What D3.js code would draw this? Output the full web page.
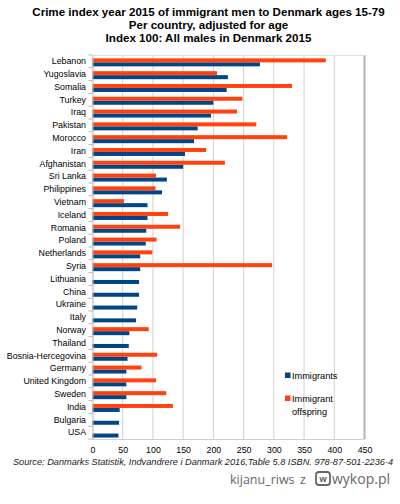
<!DOCTYPE html>
<html><head><meta charset="utf-8">
<script src="https://cdn.jsdelivr.net/npm/d3@7"></script>
<style>body{margin:0;background:#fff}svg{display:block}</style>
</head><body>
<script>
const categories = ["Lebanon","Yugoslavia","Somalia","Turkey","Iraq","Pakistan","Morocco","Iran","Afghanistan","Sri Lanka","Philippines","Vietnam","Iceland","Romania","Poland","Netherlands","Syria","Lithuania","China","Ukraine","Italy","Norway","Thailand","Bosnia-Hercegovina","Germany","United Kingdom","Sweden","India","Bulgaria","USA"];
const immigrants = [277,224,222,200,196,174,168,153,150,123,115,91,91,89,88,79,79,77,77,74,72,61,60,58,56,56,56,45,44,43];
const offspring = [386,206,330,248,239,271,322,188,219,105,104,52,125,145,106,99,297,null,null,null,null,93,null,107,81,105,122,133,null,null];
const xTicks = [0,50,100,150,200,250,300,350,400,450];
const titleLines = ["Crime index year 2015 of immigrant men to Denmark ages 15-79","Per country, adjusted for age","Index 100: All males in Denmark 2015"];
const seriesNames = ["Immigrants","Immigrant offspring"];
const colors = ["#004586","#ff420e"];

const W=400,H=504;
const svg=d3.select("body").append("svg").attr("width",W).attr("height",H).style("font-family","'Liberation Sans',Arial,sans-serif");
const m={left:92.5,right:364.5,top:55,bottom:439};
const x=d3.scaleLinear().domain([0,450]).range([m.left,m.right]);
const y=d3.scaleBand().domain(categories).range([m.top,m.bottom]);
const sub=d3.scaleBand().domain([1,0]).range([0,y.bandwidth()]).paddingInner(0).paddingOuter(0.6).align(0.7);

// title
svg.append("g").selectAll("text").data(titleLines).join("text")
 .attr("x",208.5).attr("y",(d,i)=>16+i*13.2).attr("text-anchor","middle")
 .attr("font-weight","bold").attr("font-size","11.6px").attr("fill","#000").text(d=>d);

// grid
svg.append("g").selectAll("line").data(xTicks.slice(1)).join("line")
 .attr("x1",d=>x(d)).attr("x2",d=>x(d)).attr("y1",m.top).attr("y2",m.bottom)
 .attr("stroke",(d,i)=>d===450?"#b3b3b3":"#d0d0d0").attr("stroke-width",d=>d===450?2:1);
svg.append("line").attr("x1",m.left).attr("x2",m.right).attr("y1",m.top+0.5).attr("y2",m.top+0.5).attr("stroke","#e0e0e0");
svg.append("line").attr("x1",m.left).attr("x2",m.right).attr("y1",m.bottom+0.5).attr("y2",m.bottom+0.5).attr("stroke","#d0d0d0");

// bars
const g=svg.append("g");
categories.forEach((c,i)=>{
  [immigrants[i],offspring[i]].forEach((v,s)=>{
    if(v==null) return;
    g.append("rect").attr("x",x(0)).attr("y",y(c)+sub(s)).attr("width",x(v)-x(0)).attr("height",sub.bandwidth()).attr("fill",colors[s]);
  });
});

// left axis
const ya=svg.append("g").attr("transform",`translate(${m.left},0)`).call(d3.axisLeft(y).tickSize(0).tickPadding(6.5));
ya.select(".domain").attr("stroke","#b3b3b3");
ya.selectAll("text").attr("font-size","8.8px").attr("fill","#000").style("font-family","'Liberation Sans',Arial,sans-serif");
// category separators ticks
svg.append("g").selectAll("line").data(d3.range(categories.length+1)).join("line")
 .attr("x1",m.left-4).attr("x2",m.left).attr("y1",i=>m.top+i*y.step()).attr("y2",i=>m.top+i*y.step()).attr("stroke","#b3b3b3");

// bottom axis labels
const xa=svg.append("g").attr("transform",`translate(0,${m.bottom})`).call(d3.axisBottom(x).tickValues(xTicks).tickSize(0).tickPadding(8));
xa.select(".domain").remove();
xa.selectAll("text").attr("font-size","8.8px").attr("fill","#000").style("font-family","'Liberation Sans',Arial,sans-serif");

// legend
const lg=svg.append("g").attr("font-size","9.2px");
lg.append("rect").attr("x",285).attr("y",372.5).attr("width",5.5).attr("height",5.5).attr("fill",colors[0]);
lg.append("text").attr("x",292).attr("y",378.5).text("Immigrants");
lg.append("rect").attr("x",285).attr("y",395.5).attr("width",5.5).attr("height",5.5).attr("fill",colors[1]);
lg.append("text").attr("x",292).attr("y",401.5).text("Immigrant");
lg.append("text").attr("x",292).attr("y",414.5).text("offspring");

// source
svg.append("text").attr("x",203).attr("y",465).attr("text-anchor","middle").attr("font-style","italic").attr("font-size","9.2px").attr("fill","#222")
 .text("Source: Danmarks Statistik, Indvandrere i Danmark 2016,Table 5.8 ISBN. 978-87-501-2236-4");

// watermark
const wm=svg.append("g").attr("fill","#666").style("font-family","'Open Sans','DejaVu Sans',sans-serif");
wm.append("text").attr("x",230).attr("y",484).attr("font-size","12.5px").text("kijanu_riws");
wm.append("text").attr("x",300).attr("y",484).attr("font-size","12.5px").text("z");
wm.append("rect").attr("x",316).attr("y",472).attr("width",14).attr("height",13).attr("rx",3).attr("fill","none").attr("stroke","#666").attr("stroke-width",1.8);
wm.append("text").attr("x",323).attr("y",482).attr("text-anchor","middle").attr("font-size","9px").attr("font-weight","bold").text("w");
wm.append("text").attr("x",332).attr("y",484).attr("font-size","14px").text("wykop.pl");
</script>
</body></html>
